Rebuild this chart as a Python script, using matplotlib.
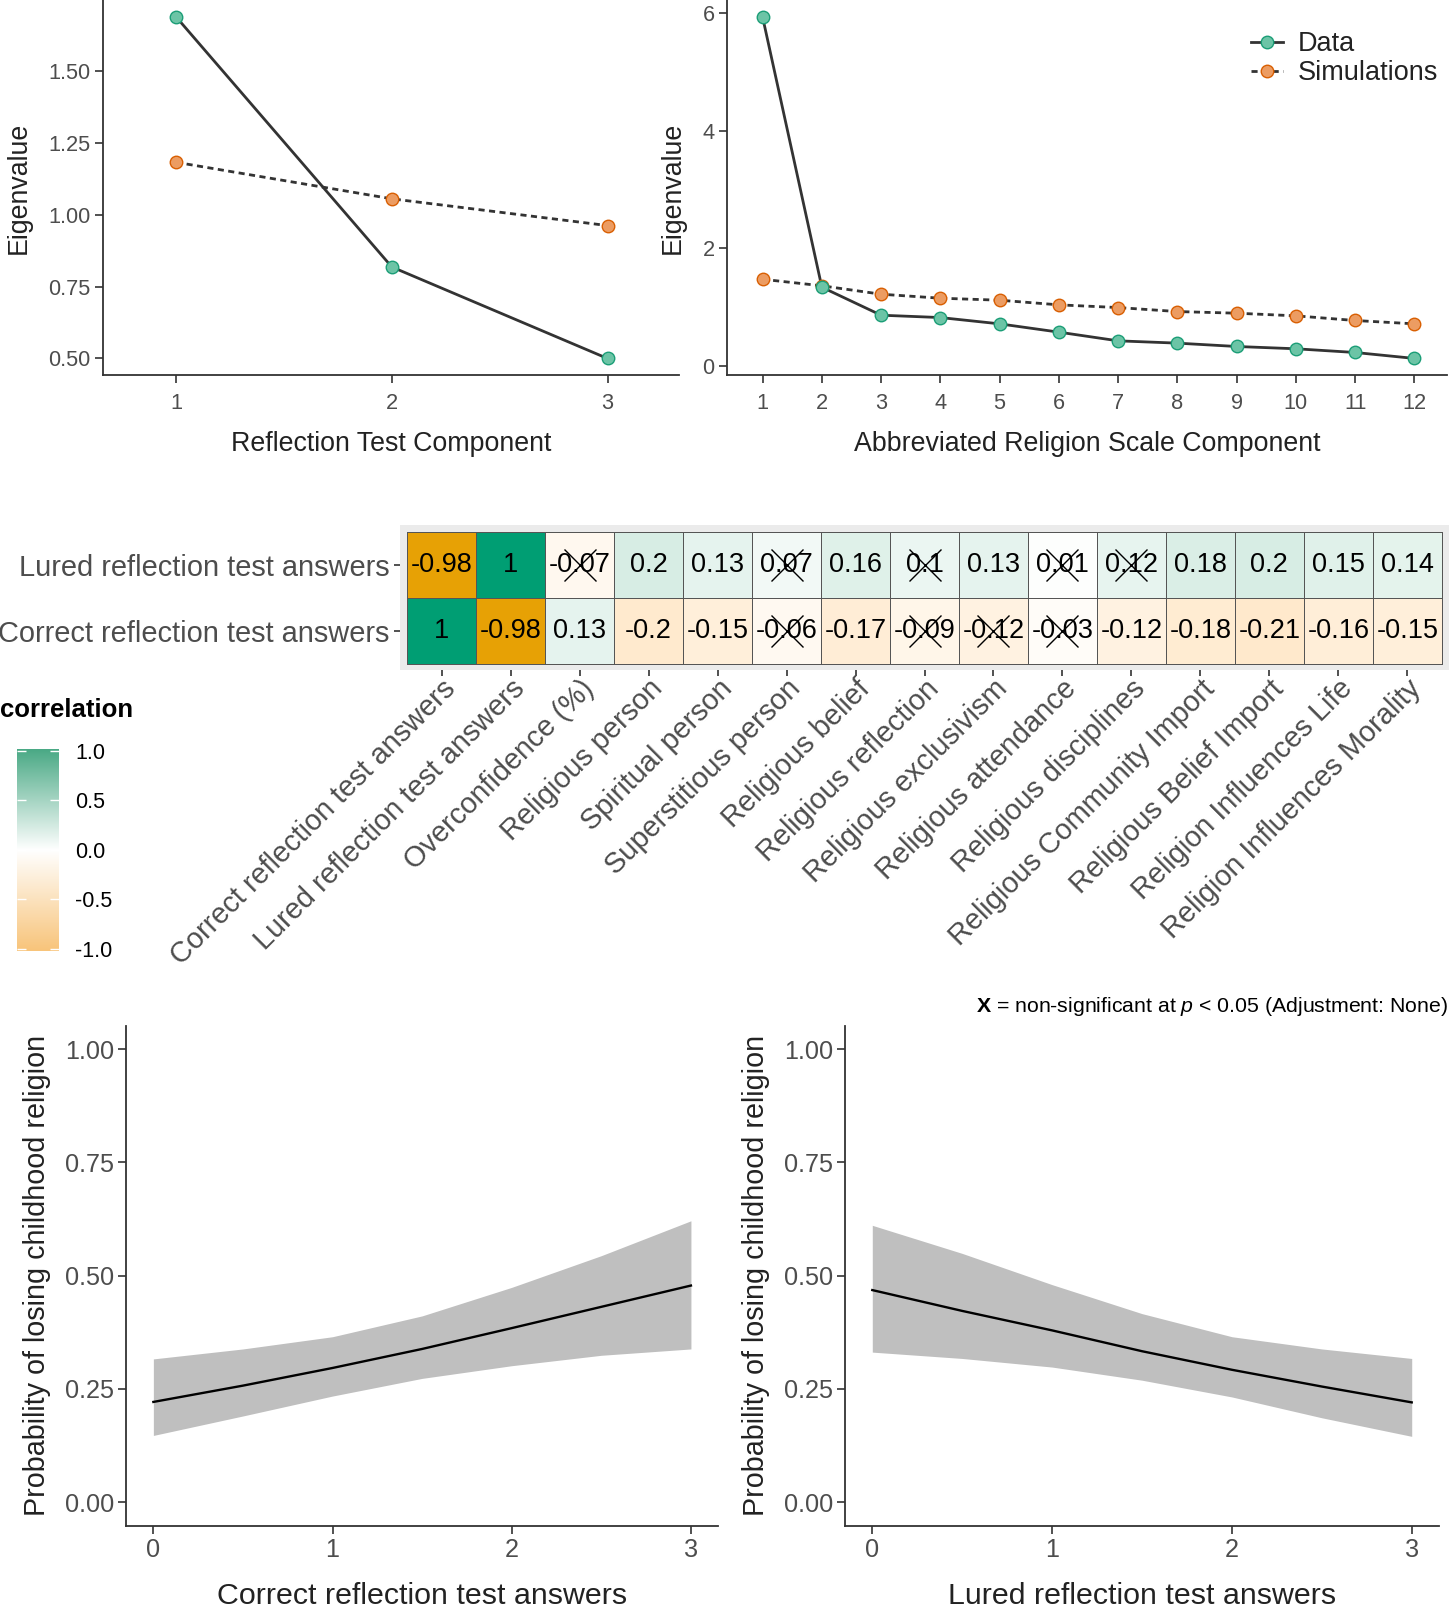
import numpy as np
import matplotlib.pyplot as plt
from matplotlib.colors import LinearSegmentedColormap
from matplotlib.lines import Line2D

plt.rcParams['font.family'] = ['Liberation Sans', 'DejaVu Sans']
plt.rcParams['mathtext.fontset'] = 'custom'
plt.rcParams['mathtext.rm'] = 'Liberation Sans'
plt.rcParams['mathtext.it'] = 'Liberation Sans:italic'
plt.rcParams['mathtext.bf'] = 'Liberation Sans:bold'

# scree plots (parallel analysis)
crt_comp = [1, 2, 3]
crt_data = [1.687, 0.818, 0.50]
crt_sims = [1.182, 1.055, 0.962]

rel_comp = list(range(1, 13))
rel_data = [5.93, 1.336, 0.86, 0.82, 0.713, 0.572, 0.424, 0.385, 0.328, 0.289, 0.226, 0.125]
rel_sims = [1.471, 1.36, 1.217, 1.149, 1.115, 1.036, 0.99, 0.922, 0.894, 0.849, 0.77, 0.713]

# correlation heatmap
corr_cols = ['Correct reflection test answers', 'Lured reflection test answers',
             'Overconfidence (%)', 'Religious person', 'Spiritual person',
             'Superstitious person', 'Religious belief', 'Religious reflection',
             'Religious exclusivism', 'Religious attendance', 'Religious disciplines',
             'Religious Community Import', 'Religious Belief Import',
             'Religion Influences Life', 'Religion Influences Morality']
corr_rows = ['Correct reflection test answers', 'Lured reflection test answers']
corr_correct = [1, -0.98, 0.13, -0.2, -0.15, -0.06, -0.17, -0.09, -0.12, -0.03,
                -0.12, -0.18, -0.21, -0.16, -0.15]
corr_lured = [-0.98, 1, -0.07, 0.2, 0.13, 0.07, 0.16, 0.1, 0.13, 0.01,
              0.12, 0.18, 0.2, 0.15, 0.14]
nonsig_correct = [0, 0, 0, 0, 0, 1, 0, 1, 1, 1, 0, 0, 0, 0, 0]
nonsig_lured = [0, 0, 1, 0, 0, 1, 0, 1, 0, 1, 1, 0, 0, 0, 0]

# predicted probabilities of losing childhood religion
pred_x = [0, 0.5, 1, 1.5, 2, 2.5, 3]
correct_fit = [0.221, 0.257, 0.296, 0.338, 0.384, 0.431, 0.478]
correct_lo = [0.147, 0.19, 0.234, 0.273, 0.301, 0.324, 0.338]
correct_hi = [0.316, 0.338, 0.365, 0.411, 0.474, 0.544, 0.621]
lured_fit = [0.468, 0.422, 0.379, 0.333, 0.292, 0.255, 0.220]
lured_lo = [0.331, 0.317, 0.298, 0.269, 0.232, 0.186, 0.145]
lured_hi = [0.611, 0.549, 0.480, 0.416, 0.365, 0.338, 0.317]

fig = plt.figure(figsize=(14.5, 16.13), dpi=100, facecolor='white')
# layout measured on a 1410 x 1568 grid
W, H = 1410, 1568

def box(x0, y0, x1, y1):
    # pixel box (top-left origin) -> figure fraction rect
    return [x0 / W, 1 - y1 / H, (x1 - x0) / W, (y1 - y0) / H]

axis_col = '#333333'
tick_col = '#4d4d4d'
title_col = '#222222'
teal_fill, teal_edge = '#6cc4a6', '#1b9e77'
orange_fill, orange_edge = '#ec9c62', '#d95f02'

def classic(ax, tsize, tlen, pad=3.5):
    for s in ['top', 'right']:
        ax.spines[s].set_visible(False)
    for s in ['left', 'bottom']:
        ax.spines[s].set_color(axis_col)
        ax.spines[s].set_linewidth(1.3)
    ax.tick_params(colors=axis_col, labelcolor=tick_col, labelsize=tsize,
                   length=tlen, width=1.2, pad=pad)

def scree(ax, comp, data, sims):
    ax.plot(comp, sims, color=axis_col, lw=2.0, ls=(0, (2.2, 1.6)), zorder=2)
    ax.plot(comp, data, color=axis_col, lw=2.0, zorder=2)
    ax.plot(comp, sims, ls='none', marker='o', ms=9, mfc=orange_fill,
            mec=orange_edge, mew=1.0, zorder=3)
    ax.plot(comp, data, ls='none', marker='o', ms=9, mfc=teal_fill,
            mec=teal_edge, mew=1.0, zorder=4)

# top left
ax1 = fig.add_axes(box(100, 0, 660, 365))
scree(ax1, crt_comp, crt_data, crt_sims)
classic(ax1, 15.7, 5.5)
ax1.tick_params(axis='x', pad=7)
ax1.set_xlim(0.66, 3.33)
ax1.set_ylim(0.441, 1.746)
ax1.set_xticks(crt_comp)
ax1.set_yticks([0.5, 0.75, 1.0, 1.25, 1.5])
ax1.set_yticklabels(['0.50', '0.75', '1.00', '1.25', '1.50'])
ax1.set_xlabel('Reflection Test Component', fontsize=19.3, color=title_col, labelpad=12)
ax1.set_ylabel('Eigenvalue', fontsize=19.3, color=title_col, labelpad=12)

# top right
ax2 = fig.add_axes(box(707, 0, 1407, 365))
scree(ax2, rel_comp, rel_data, rel_sims)
classic(ax2, 15.7, 5.5)
ax2.tick_params(axis='x', pad=7)
ax2.set_xlim(0.4, 12.55)
ax2.set_ylim(-0.165, 6.22)
ax2.set_xticks(rel_comp)
ax2.set_yticks([0, 2, 4, 6])
ax2.set_xlabel('Abbreviated Religion Scale Component', fontsize=19.3, color=title_col, labelpad=12)
ax2.set_ylabel('Eigenvalue', fontsize=19.3, color=title_col, labelpad=12)
handles = [Line2D([], [], color=axis_col, lw=2.0, marker='o', ms=9, mfc=teal_fill, mec=teal_edge),
           Line2D([], [], color=axis_col, lw=2.0, ls=(0, (2.2, 1.6)), marker='o', ms=9,
                  mfc=orange_fill, mec=orange_edge)]
fig.legend(handles, ['Data', 'Simulations'], loc='upper left',
           bbox_to_anchor=(1203 / W, 1 - 17 / H), frameon=False, fontsize=19.5,
           handlelength=1.2, handletextpad=0.55, labelspacing=0.12, borderpad=0,
           labelcolor=title_col)

# heatmap (colour ramp approximating a Lab-space blend through white)
cmap = LinearSegmentedColormap.from_list('corr', [
    (0.0, '#E69F00'), (0.25, '#FAD094'), (0.4, '#FFEACE'), (0.5, '#FFFFFF'),
    (0.6, '#D7EDE4'), (0.75, '#96D0B9'), (1.0, '#009E73')])
axh = fig.add_axes(box(389, 510, 1409, 651))
axh.set_facecolor('#ebebeb')
mat = np.array([corr_correct, corr_lured], dtype=float)
ncol = len(corr_cols)
xe = np.arange(ncol + 1) + 0.5
ye = np.arange(len(corr_rows) + 1) + 0.5
axh.pcolormesh(xe, ye, mat, cmap=cmap, vmin=-1, vmax=1, edgecolors='#555555', linewidth=0.7)
axh.set_xlim(0.5 - 7 / 67.07, ncol + 0.5 + 7 / 67.07)
axh.set_ylim(0.5 - 6 / 64, 2.5 + 7 / 64)
for s in axh.spines.values():
    s.set_visible(False)
for r, (vals, ns) in enumerate([(corr_correct, nonsig_correct), (corr_lured, nonsig_lured)]):
    for c, v in enumerate(vals):
        axh.text(c + 1, r + 1, '{:g}'.format(v), ha='center', va='center',
                 fontsize=19.5, color='black')
        if ns[c]:
            axh.plot(c + 1, r + 1, marker='x', ms=23, mew=1.0, color='black', ls='none')
axh.set_xticks(np.arange(1, ncol + 1))
axh.set_xticklabels(corr_cols, rotation=45, ha='right', va='top', rotation_mode='anchor')
axh.set_yticks([1, 2])
axh.set_yticklabels(corr_rows)
axh.tick_params(axis='x', length=4.5, width=1.2, color=axis_col, labelcolor=tick_col,
                labelsize=20.8, pad=-1)
axh.tick_params(axis='y', length=4.5, width=1.2, color=axis_col, labelcolor=tick_col,
                labelsize=20.9, pad=3)

# colour legend
cb_cmap = LinearSegmentedColormap.from_list('cb', ['#f8c47a', '#ffffff', '#4aa985'])
axc = fig.add_axes(box(17, 728, 57, 924))
grad = np.linspace(-1, 1, 256).reshape(-1, 1)
axc.imshow(grad, cmap=cb_cmap, vmin=-1, vmax=1, extent=[0, 1, -1.02, 1.02],
           origin='lower', aspect='auto')
axc.set_xlim(0, 1)
axc.set_ylim(-1.02, 1.02)
cb_ticks = [-1.0, -0.5, 0.0, 0.5, 1.0]
axc.hlines(cb_ticks, 0, 0.2, color='white', lw=1)
axc.hlines(cb_ticks, 0.8, 1, color='white', lw=1)
axc.set_xticks([])
axc.set_yticks(cb_ticks)
axc.set_yticklabels(['{:.1f}'.format(t) for t in cb_ticks])
axc.yaxis.tick_right()
axc.tick_params(axis='y', length=0, labelsize=15.5, labelcolor='black', pad=12)
for s in axc.spines.values():
    s.set_visible(False)
fig.text(0, 1 - 690 / H, 'correlation', fontsize=18.5, fontweight='bold',
         ha='left', va='center', color='black')

fig.text(1408 / W, 1 - 978 / H,
         r'$\mathbf{X}$ = non-significant at $\mathit{p}$ < 0.05 (Adjustment: None)',
         fontsize=15.3, ha='right', va='center', color='black')

# predicted probability panels
def prob_panel(ax, fit, lo, hi, xlabel):
    ax.fill_between(pred_x, lo, hi, color='#bfbfbf', lw=0, zorder=1)
    ax.plot(pred_x, fit, color='black', lw=1.7, zorder=2)
    classic(ax, 18.2, 5.5)
    ax.set_xlim(-0.15, 3.15)
    ax.set_ylim(-0.052, 1.052)
    ax.set_xticks([0, 1, 2, 3])
    ax.set_yticks([0, 0.25, 0.5, 0.75, 1.0])
    ax.set_yticklabels(['0.00', '0.25', '0.50', '0.75', '1.00'])
    ax.set_xlabel(xlabel, fontsize=21.9, color=title_col, labelpad=14)
    ax.set_ylabel('Probability of losing childhood religion', fontsize=20.7,
                  color=title_col, labelpad=10)

ax3 = fig.add_axes(box(123, 997, 698, 1483))
prob_panel(ax3, correct_fit, correct_lo, correct_hi, 'Correct reflection test answers')
ax4 = fig.add_axes(box(822, 997, 1399, 1483))
prob_panel(ax4, lured_fit, lured_lo, lured_hi, 'Lured reflection test answers')

fig.savefig('out.png', dpi=100, facecolor='white')
